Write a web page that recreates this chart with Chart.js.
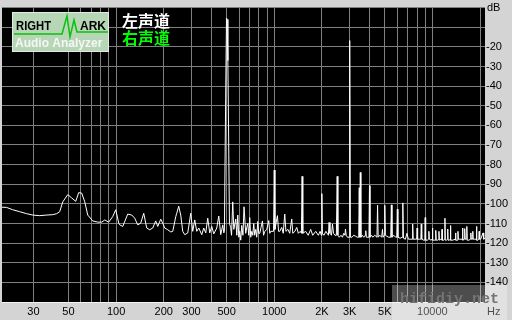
<!DOCTYPE html>
<html>
<head>
<meta charset="utf-8">
<script src="https://cdn.jsdelivr.net/npm/chart.js@4"></script>
<style>
  html, body { margin: 0; padding: 0; background: #d4d4d4; }
  canvas { display: block; }
</style>
</head>
<body>
<canvas id="spectrum" width="512" height="320"></canvas>
<script>
// --- Data ---
const freqHz = [
  19, 20.3, 22.2, 24.6, 27.2, 29.7, 32.9, 36.4, 39.8, 42.1, 44, 46, 49.5, 52.4, 55.6, 58, 60.6, 63.4, 66.2,
  71.2, 76.6, 81.2, 84.8, 89.8, 95.2, 99.5, 103.9, 105.5, 110.2, 118.5, 125.6, 131.2, 137.1, 143.2, 149.6,
  156.2, 163.2, 170.5, 178.1, 183.4, 191.6, 197.2, 203.1, 212.2, 221.6, 228.2, 238.4, 241.8, 248.9, 256.3,
  263.9, 271.8, 283.9, 296.5, 305.3, 314.3, 323.6, 333.2, 348, 358.3, 368.9, 379.8, 391, 402.5, 414.5, 433,
  445.9, 458.9, 472.6, 480,
  484, 493, 499, 503, 509, 516, 521, 530,
  537, 546.5, 555, 571, 580, 588, 597, 605, 614, 623, 634, 644, 660, 670, 680, 690, 700, 710, 721, 731, 742,
  752, 764, 775, 787, 798, 810, 825, 842, 856, 871, 897, 923, 937, 950, 990,
  1000, 1010, 1047.6, 1065, 1083, 1115, 1140, 1165, 1185, 1220, 1253, 1290, 1310, 1350, 1388, 1420, 1460, 1485,
  1500, 1515, 1580, 1640, 1700, 1750, 1830, 1900, 1950, 1985, 2000, 2015, 2060, 2120, 2200, 2221, 2250, 2300,
  2333, 2370, 2420, 2470, 2500, 2525, 2580, 2640, 2700, 2751, 2800, 2820, 2850, 2900, 2970, 3000, 3030, 3100,
  3180, 3276, 3350, 3420, 3447, 3470, 3500, 3530, 3600, 3681, 3760, 3790, 3820, 3902, 3970, 4000, 4030, 4120,
  4196, 4320, 4460, 4500, 4540, 4650, 4780, 4833, 4880, 4960, 5000, 5040, 5150, 5300, 5450, 5500, 5550, 5700,
  5850, 5950, 6000, 6050, 6250, 6430, 6500, 6560, 6750, 6900, 7050, 7300, 7450, 7500, 7560, 7800, 7950, 8000,
  8060, 8300, 8450, 8500, 8560, 8800, 8950, 9000, 9060, 9300, 9450, 9500, 9560, 9800, 9950, 10000, 10060,
  10300, 10450, 10500, 10560, 10800, 10950, 11000, 11060, 11300, 11450, 11500, 11560, 11800, 11950, 12000,
  12060, 12300, 12450, 12500, 12560, 12800, 12950, 13000, 13070, 13450, 13900, 14000, 14080, 14400, 14500,
  14600, 14900, 15400, 15500, 15600, 15900, 16000, 16100, 16400, 16500, 16600, 17000, 17400, 17500, 17600,
  17900, 18000, 18100, 18500, 18900, 19000, 19100, 19400, 19650, 19750, 19850, 20200, 20900, 21100, 21500
];
const levelDb = [
  -101.7, -101.8, -103, -104, -105, -105.7, -106, -105.7, -105.5, -105, -104, -99, -95.3, -97, -98.7, -94.3, -94.5, -99, -105.7,
  -108.7, -109.3, -109.3, -108.2, -109.3, -106.5, -103, -109.8, -110.7, -111.5, -105.2, -105.7, -107.3, -110.7, -109.8, -104.8,
  -112.3, -113.2, -112.3, -108.7, -111.5, -107.8, -109.8, -112.3, -113.2, -114.3, -114, -106.5, -104.8, -101.2, -105.7,
  -114, -115.7, -114.8, -104.8, -114, -108.2, -114, -112.3, -115.7, -112.3, -114.8, -107.3, -114.8, -111.5, -115.3, -112.3,
  -106.2, -115.7, -110.7, -114.8,
  -114, -46.5, -5.3, -6, -27, -75, -110, -112,
  -116, -99, -113, -107.7, -116, -105.7, -117, -114, -118.5, -111, -116, -101.5, -115, -112, -110, -116, -107, -117, -114, -116, -110,
  -116, -113, -117, -109, -115, -115, -112, -108.7, -116, -114, -113, -108.5, -115, -114, -114,
  -82.8, -113, -106, -114, -114, -112, -115, -105.2, -114, -113, -115, -107.7, -115, -114, -112, -115, -114, -115,
  -86, -115, -114, -116, -113, -116, -114, -116, -114, -116, -94.8, -115, -116, -114, -116, -109.5, -115, -116,
  -110.3, -115, -116, -116, -86, -116, -117, -116, -117, -115, -116, -112.8, -116, -117, -117, -16.8, -117, -117,
  -116, -116.5, -117, -117, -91.8, -117, -84, -117, -116, -117, -116, -113.7, -117, -117, -117, -90.7, -117, -116,
  -117, -116, -117, -100.7, -117, -116, -117, -113, -117, -116, -100.7, -116, -116.5, -117, -117, -100.5, -117, -116,
  -117, -117, -102.7, -117, -117.5, -117, -99.5, -117.5, -118, -115, -118, -118, -118, -110.3, -118, -118, -118, -112.3,
  -118, -118, -118, -110.3, -118, -118.5, -118.5, -107, -118.5, -118.5, -118, -114, -118, -118.5, -118, -112.3, -118.5,
  -118.5, -118.5, -113.5, -118.5, -118.5, -118, -114, -118.5, -118, -118.5, -113, -118.5, -118.5, -118, -107.3,
  -118.5, -118.5, -118, -112.8, -118.5, -118.5, -118, -111, -118.5, -118.5, -118, -114.8, -118.5, -118.5, -114,
  -118, -118, -118, -112.3, -118.5, -118, -112.6, -118, -118, -111.5, -118.5, -118.5, -118, -114.8, -118,
  -118, -114, -118, -118, -118, -111.5, -118.5, -118.5, -118, -114, -118, -118, -114.8, -118, -117.5
];

// axis grid / labels
const gridFreqs = [30, 50, 60, 70, 80, 90, 100, 200, 300, 400, 500, 600, 700, 800, 900, 1000,
  2000, 3000, 4000, 5000, 6000, 7000, 8000, 9000, 10000, 20000];
const freqLabels = { 30: "30", 50: "50", 100: "100", 200: "200", 300: "300", 500: "500",
  1000: "1000", 2000: "2K", 3000: "3K", 5000: "5K", 10000: "10000" };
const gridLevels = [0, -10, -20, -30, -40, -50, -60, -70, -80, -90, -100, -110, -120, -130, -140, -150];
const levelLabels = [-20, -30, -40, -50, -60, -70, -80, -90, -100, -110, -120, -130, -140];
const channelNames = ["左声道", "右声道"];

const canvas = document.getElementById("spectrum");
const uiFont = "Liberation Sans";

// background, frame, logo, legend and watermark
const decorations = {
  id: "decorations",
  beforeDraw(chart) {
    const { ctx, chartArea: a } = chart;
    ctx.save();
    ctx.fillStyle = "#d4d4d4";
    ctx.fillRect(0, 0, chart.width, chart.height);
    ctx.fillStyle = "#000";
    ctx.fillRect(a.left, a.top, a.right - a.left, a.bottom - a.top);
    ctx.restore();
  },
  afterDraw(chart) {
    const { ctx, chartArea: a } = chart;
    ctx.save();

    // bottom frame line
    ctx.strokeStyle = "#f4f4f4";
    ctx.lineWidth = 1;
    ctx.beginPath();
    ctx.moveTo(a.left, a.bottom + 0.5);
    ctx.lineTo(a.right, a.bottom + 0.5);
    ctx.stroke();

    // unit labels
    ctx.fillStyle = "#000";
    ctx.font = `11px "${uiFont}"`;
    ctx.textAlign = "left";
    ctx.textBaseline = "top";
    ctx.fillText("dB", a.right + 2, 2);
    ctx.fillText("Hz", a.right + 2, a.bottom + 4);

    // RightMark logo
    ctx.fillStyle = "#b6d6b6";
    ctx.fillRect(12.5, 12.5, 96, 39);
    ctx.strokeStyle = "#e8e8e8";
    ctx.strokeRect(12.5, 12.5, 96, 39);
    ctx.fillStyle = "#000";
    ctx.font = `bold 12px "${uiFont}"`;
    ctx.textBaseline = "alphabetic";
    ctx.fillText("RIGHT", 16, 30, 35);
    ctx.fillText("ARK", 80, 30, 28);
    ctx.strokeStyle = "#0cc00c";
    ctx.lineWidth = 1.5;
    ctx.beginPath();
    ctx.moveTo(14, 34);
    ctx.lineTo(62, 34);
    ctx.lineTo(67, 16);
    ctx.lineTo(70, 37);
    ctx.lineTo(74, 20);
    ctx.lineTo(77, 32);
    ctx.lineTo(108, 32);
    ctx.stroke();
    ctx.fillStyle = "#f6f6f6";
    ctx.font = `bold 12px "${uiFont}"`;
    ctx.fillText("Audio Analyzer", 15, 47, 92);

    // channel legend
    ctx.font = `bold 16px "Noto Sans CJK SC"`;
    ctx.textBaseline = "middle";
    ctx.fillStyle = "#ffffff";
    ctx.fillText(channelNames[0], 122, 21);
    ctx.fillStyle = "#00ff00";
    ctx.fillText(channelNames[1], 122, 37.5);

    // watermark
    ctx.fillStyle = "rgba(255,255,255,0.3)";
    ctx.fillRect(392, 285, 115, 35);
    ctx.fillStyle = "#747474";
    ctx.font = `bold 15px "Liberation Mono"`;
    ctx.textBaseline = "alphabetic";
    ctx.fillText("hifidiy.net", 400, 303);

    ctx.restore();
  }
};

new Chart(canvas, {
  type: "line",
  data: {
    datasets: [{
      label: channelNames[0],
      data: freqHz.map((f, i) => ({ x: f, y: levelDb[i] })),
      borderColor: "#ffffff",
      borderWidth: 1,
      pointRadius: 0,
      tension: 0
    }]
  },
  options: {
    responsive: false,
    animation: false,
    devicePixelRatio: 1,
    layout: { padding: { left: 2, top: 2, right: 0, bottom: 0 } },
    plugins: {
      legend: { display: false },
      tooltip: { enabled: false }
    },
    scales: {
      x: {
        type: "logarithmic",
        min: 19,
        max: 21500,
        afterBuildTicks: s => { s.ticks = gridFreqs.map(v => ({ value: v })); },
        afterFit: s => { s.height = 18; },
        grid: { color: "#808080", drawTicks: false },
        border: { display: false },
        ticks: {
          autoSkip: false,
          maxRotation: 0,
          padding: 3,
          color: "#000",
          font: { family: uiFont, size: 11 },
          callback: v => freqLabels[v] || ""
        }
      },
      y: {
        type: "linear",
        position: "right",
        min: -150,
        max: 0,
        afterBuildTicks: s => { s.ticks = gridLevels.map(v => ({ value: v })); },
        afterFit: s => { s.width = 27; },
        grid: { color: "#808080", drawTicks: false },
        border: { display: false },
        ticks: {
          padding: 1,
          color: "#000",
          font: { family: uiFont, size: 11 },
          callback: v => levelLabels.includes(v) ? String(v) : ""
        }
      }
    }
  },
  plugins: [decorations]
});
</script>
</body>
</html>
